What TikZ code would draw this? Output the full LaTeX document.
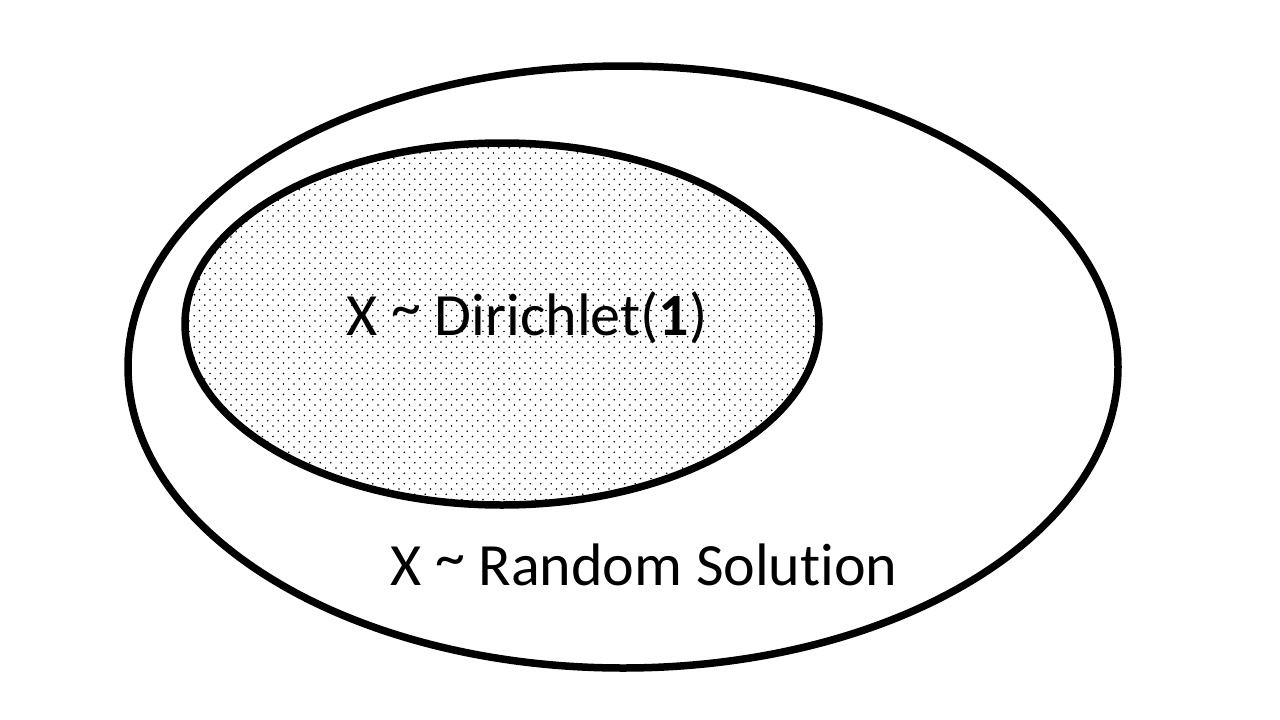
\documentclass[tikz,border=0pt]{standalone}
\usepackage{fontspec}
\setmainfont{Carlito}[Ligatures=NoCommon]
\usetikzlibrary{patterns}

% staggered fine dot fill
\pgfdeclarepatternformonly{stagdots}{\pgfpoint{-1pt}{-1pt}}{\pgfpoint{10.5pt}{10.5pt}}{\pgfpoint{10.5pt}{10.5pt}}{%
  \pgfpathcircle{\pgfpoint{0pt}{0pt}}{0.9pt}%
  \pgfpathcircle{\pgfpoint{5.25pt}{5.25pt}}{0.9pt}%
  \pgfusepath{fill}%
}

% raised tilde, centred on the lowercase letters
\newcommand{\midtilde}{\raisebox{8pt}{\textasciitilde}}

\begin{document}
\begin{tikzpicture}[x=1pt,y=-1pt,
  setline/.style={line width=7.5pt, draw=black},
  setlabel/.style={inner sep=0pt, anchor=base, font=\fontsize{60}{72}\selectfont}]
\useasboundingbox (0,0) rectangle (1280,720);
\fill[white] (0,0) rectangle (1280,720);

% outer set
\draw[setline] (623,367) ellipse [x radius=495, y radius=301];
% inner set
\draw[setline, pattern=stagdots, pattern color=black] (502,324) ellipse [x radius=317, y radius=181];

\node[setlabel] (inner) at (527,335) {X \midtilde{} Dirichlet(\textbf{1})};
\node[setlabel] (outer) at (644,585) {X \midtilde{} Random Solution};
\end{tikzpicture}
\end{document}
